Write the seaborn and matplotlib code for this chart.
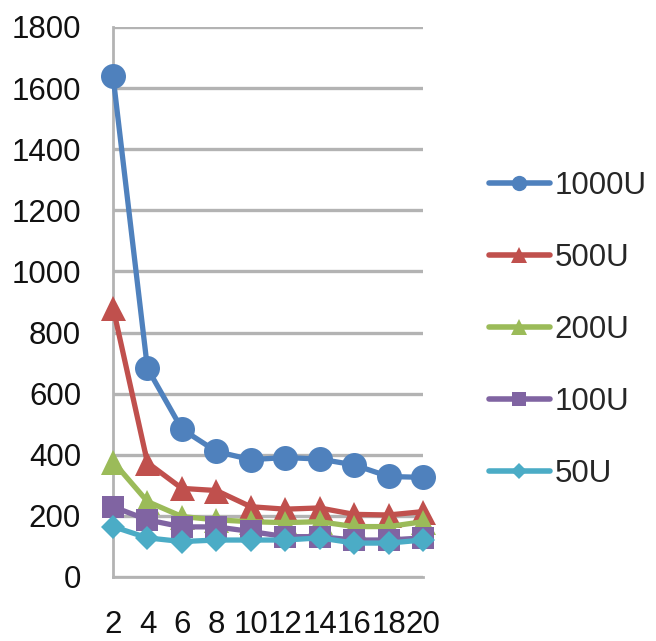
import matplotlib
matplotlib.use("Agg")
import matplotlib.pyplot as plt
import seaborn as sns
import pandas as pd
from matplotlib.lines import Line2D

x_vals = [2, 4, 6, 8, 10, 12, 14, 16, 18, 20]
series_names = ["1000U", "500U", "200U", "100U", "50U"]
s_1000U = [1640, 683, 484, 411, 384, 391, 386, 367, 329, 326]
s_500U = [882, 374, 290, 283, 230, 222, 226, 205, 203, 214]
s_200U = [378, 247, 198, 187, 181, 178, 181, 165, 165, 181]
s_100U = [230, 187, 164, 164, 149, 132, 132, 121, 121, 128]
s_50U = [165, 128, 116, 121, 121, 121, 128, 111, 111, 121]
y_ticks = [0, 200, 400, 600, 800, 1000, 1200, 1400, 1600, 1800]

colors = ["#4F81BD", "#C0504D", "#9BBB59", "#8064A2", "#4BACC6"]
markers = ["o", "^", "^", "s", "D"]
msizes = [18, 18, 18, 16, 12]
leg_msizes = [11, 11, 11, 10, 8]

rows = []
for name, vals in zip(series_names, [s_1000U, s_500U, s_200U, s_100U, s_50U]):
    for xv, yv in zip(x_vals, vals):
        rows.append({"x": xv, "y": yv, "series": name})
df = pd.DataFrame(rows)

sns.set_theme(style="white")
plt.rcParams["font.family"] = ["Liberation Sans", "DejaVu Sans"]

fig = plt.figure(figsize=(6.56, 6.41), dpi=100)
ax = fig.add_axes([113 / 656, (641 - 577) / 641, 310 / 656, 550 / 641])

for i, name in enumerate(series_names):
    sub = df[df["series"] == name]
    sns.lineplot(data=sub, x="x", y="y", ax=ax, color=colors[i], marker=markers[i],
                 markersize=msizes[i], markeredgewidth=0, linewidth=3.8,
                 clip_on=False, zorder=3 + i, legend=False)

ax.set_xlim(2, 20)
ax.set_ylim(0, 1800)
ax.set_xticks(x_vals)
ax.set_xticklabels([str(v) for v in x_vals])
ax.set_yticks(y_ticks)
ax.set_yticklabels([str(v) for v in y_ticks])
ax.set_xlabel("")
ax.set_ylabel("")

ax.grid(axis="y", color="#B3B3B3", linewidth=2.4)
ax.grid(axis="x", visible=False)
ax.set_axisbelow(True)
for s in ["top", "right"]:
    ax.spines[s].set_visible(False)
for s in ["left", "bottom"]:
    ax.spines[s].set_color("#B3B3B3")
    ax.spines[s].set_linewidth(2.0)
ax.tick_params(axis="both", which="both", length=8, width=1.5, color="#B3B3B3",
               labelsize=22.5, labelcolor="#111111")
ax.tick_params(axis="x", pad=16)
ax.tick_params(axis="y", pad=15)

handles = [Line2D([0], [0], color=c, marker=m, markersize=ms, markeredgewidth=0,
                  linewidth=4.0) for c, m, ms in zip(colors, markers, leg_msizes)]
leg = ax.legend(handles, series_names, loc="center left",
                bbox_to_anchor=(489 / 656, 1 - 330 / 641),
                bbox_transform=fig.transFigure, frameon=False, fontsize=22.5,
                handlelength=1.95, handletextpad=0.15, labelspacing=1.35,
                borderaxespad=0, borderpad=0)

fig.savefig("out.png", dpi=100)
